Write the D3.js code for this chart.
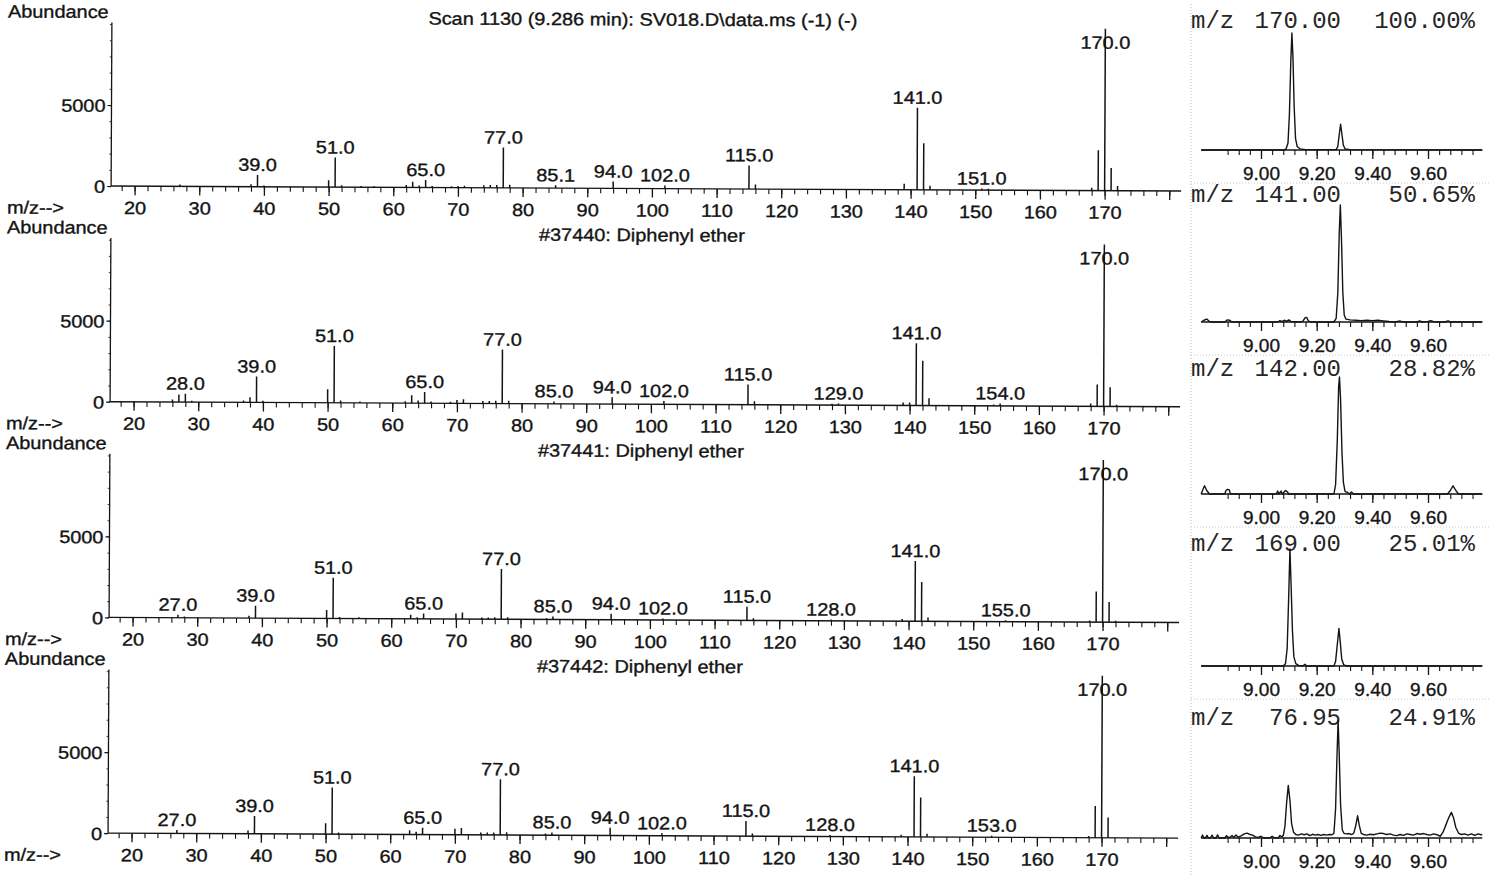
<!DOCTYPE html>
<html><head><meta charset="utf-8">
<script src="https://cdn.jsdelivr.net/npm/d3@7"></script>
<style>body{margin:0;background:#fff}svg{display:block}</style>
</head><body>
<svg id="c" width="1493" height="875"></svg>
<script>
// ---------------- DATA ----------------
const spectrumTitles = [
  "Scan 1130 (9.286 min): SV018.D\\data.ms (-1) (-)",
  "#37440: Diphenyl ether",
  "#37441: Diphenyl ether",
  "#37442: Diphenyl ether"
];
// [m/z, abundance]
const spectrum1 = [[27,120],[38,150],[39,730],[40,80],[50,420],[51,1830],[52,120],[55,80],[57,60],[62,150],[63,350],[64,120],[65,460],[66,100],[69,80],[70,100],[71,120],[74,150],[75,180],[76,180],[77,2491],[78,200],[85.1,170],[94,420],[102,200],[115,1460],[116,280],[139,375],[141,5065],[142,2882],[143,250],[151,100],[152,80],[168,180],[169,2501],[170,10000],[171,1400],[172,300]];
const spectrum2 = [[26,150],[27,460],[28,520],[29,80],[37,120],[38,310],[39,1600],[40,100],[50,830],[51,3500],[52,150],[55,80],[62,120],[63,480],[64,170],[65,690],[66,100],[69,100],[70,210],[71,250],[74,150],[75,150],[76,170],[77,3330],[78,170],[85,150],[94,420],[102,200],[115,1250],[116,210],[128,80],[129,100],[139,180],[140,180],[141,3850],[142,2770],[143,460],[153,80],[154,150],[168,170],[169,1350],[170,9999],[171,1190],[172,100]];
const spectrum3 = [[27,190],[28,80],[38,150],[39,770],[50,520],[51,2510],[52,100],[55,80],[63,250],[64,100],[65,330],[70,350],[71,400],[74,100],[75,100],[76,120],[77,3100],[78,120],[84,80],[85,190],[94,375],[102,100],[115,850],[116,130],[128,80],[139,130],[141,3710],[142,2420],[143,230],[155,80],[168,100],[169,1880],[170,9999],[171,1250],[172,80]];
const spectrum4 = [[27,210],[38,200],[39,1100],[50,670],[51,2880],[52,100],[63,270],[64,170],[65,420],[70,375],[71,420],[74,150],[75,150],[76,150],[77,3440],[78,170],[84,100],[85,170],[94,480],[102,150],[115,940],[116,170],[128,100],[139,130],[141,3750],[142,2440],[143,200],[153,100],[168,110],[169,1960],[170,9999],[171,1250]];
const peakLabels1 = [39,51,65,77,85.1,94,102,115,141,151,170];
const peakLabels2 = [28,39,51,65,77,85,94,102,115,129,141,154,170];
const peakLabels3 = [27,39,51,65,77,85,94,102,115,128,141,155,170];
const peakLabels4 = [27,39,51,65,77,85,94,102,115,128,141,153,170];
const mzMajorTicks = [20,30,40,50,60,70,80,90,100,110,120,130,140,150,160,170,180];
const abundanceTicks = [0,5000];

const chromIons = ["170.00","141.00","142.00","169.00","76.95"];
const chromPercents = ["100.00","50.65","28.82","25.01","24.91"];
const timeTickLabels = [9.00,9.20,9.40,9.60];
// [time (min), % of trace max]
const chrom170 = [[8.785,0],[9.080,0],[9.090,0.8],[9.097,6],[9.102,30],[9.107,75],[9.111,100],[9.115,78],[9.119,38],[9.124,10],[9.130,3],[9.140,1],[9.160,0.3],[9.270,0.3],[9.276,3],[9.281,13],[9.286,22],[9.291,13],[9.296,4],[9.302,1],[9.320,0.3],[9.795,0]];
const chrom141 = [[8.785,0],[8.795,1.5],[8.805,2.5],[8.815,0.5],[8.825,0],[8.870,0],[8.878,1.8],[8.888,1.5],[8.895,0],[9.060,0],[9.068,1.2],[9.075,0.3],[9.085,1.5],[9.092,0.5],[9.100,1.8],[9.108,0.4],[9.140,0],[9.150,0.5],[9.158,3.5],[9.164,4],[9.170,1],[9.178,0],[9.262,0],[9.270,3],[9.276,25],[9.281,75],[9.285,100],[9.289,72],[9.294,25],[9.299,6],[9.305,2.5],[9.320,1.8],[9.340,1.5],[9.360,1.2],[9.380,1.5],[9.400,1.2],[9.420,1.5],[9.440,1.0],[9.460,0.4],[9.480,0],[9.500,0.8],[9.510,0],[9.560,0],[9.570,1],[9.580,0],[9.600,0.5],[9.610,1.2],[9.620,0.3],[9.640,0],[9.660,0],[9.672,1],[9.682,0],[9.795,0]];
const chrom142 = [[8.785,0],[8.790,3],[8.797,7],[8.805,3],[8.815,0],[8.870,0],[8.874,3],[8.880,4],[8.886,3.5],[8.890,0],[9.055,0],[9.060,2.5],[9.064,0],[9.072,2.5],[9.077,0],[9.088,3],[9.094,2],[9.100,0],[9.262,0],[9.268,8],[9.274,45],[9.279,92],[9.282,100],[9.286,80],[9.291,35],[9.296,10],[9.302,2],[9.310,1.5],[9.318,0],[9.325,1.8],[9.332,0],[9.670,0],[9.680,3],[9.690,7],[9.700,3],[9.710,0],[9.795,0]];
const chrom169 = [[8.785,0],[9.080,0],[9.088,2],[9.094,15],[9.099,55],[9.104,100],[9.108,70],[9.113,30],[9.118,8],[9.125,2],[9.135,0.5],[9.150,0],[9.158,1.5],[9.164,0],[9.262,0],[9.268,4],[9.274,18],[9.280,32],[9.285,20],[9.290,6],[9.297,1],[9.310,0],[9.795,0]];
const chrom77 = [[8.785,0],[8.790,2.5],[8.795,0],[8.800,0],[8.806,2.2],[8.811,0],[8.818,0],[8.824,2.4],[8.830,0],[8.838,0],[8.844,2.6],[8.850,0],[8.870,0],[8.876,2],[8.882,0.5],[8.890,0.8],[8.896,2.2],[8.902,0.5],[8.910,2.5],[8.918,0.5],[8.930,2],[8.940,3.5],[8.950,4.2],[8.960,3],[8.970,2.5],[8.980,1],[8.990,0.5],[9.000,1.5],[9.010,0],[9.030,0],[9.040,1.5],[9.050,0],[9.062,0],[9.068,2.2],[9.074,1],[9.080,2],[9.086,10],[9.092,30],[9.098,45],[9.104,32],[9.110,12],[9.117,5],[9.125,3],[9.135,2.5],[9.145,3.5],[9.155,2.8],[9.165,3.5],[9.175,2],[9.185,3.2],[9.195,2.5],[9.205,3],[9.215,2.2],[9.225,3],[9.235,2.5],[9.245,3],[9.255,2.8],[9.262,4],[9.268,25],[9.273,70],[9.277,100],[9.281,72],[9.286,28],[9.292,7],[9.298,4],[9.306,3.5],[9.316,3.8],[9.326,3],[9.333,4],[9.340,10],[9.347,19],[9.353,11],[9.360,4],[9.368,3],[9.380,2.5],[9.392,3.2],[9.404,2.8],[9.416,3.5],[9.428,4.2],[9.440,3.8],[9.452,3],[9.464,3.5],[9.476,2.5],[9.488,2],[9.500,3],[9.512,2.2],[9.524,3.5],[9.536,3],[9.548,2.5],[9.560,3.8],[9.572,3.2],[9.584,3.8],[9.596,3],[9.608,2.5],[9.620,3.5],[9.632,2.8],[9.644,1.5],[9.654,5],[9.664,11],[9.674,17],[9.684,22],[9.692,17],[9.700,9],[9.710,4],[9.720,3],[9.732,3.5],[9.744,2.5],[9.756,3.5],[9.768,2.2],[9.780,3.5],[9.790,2.8],[9.795,3]];

// ---------------- DRAW ----------------
const spectra = [spectrum1, spectrum2, spectrum3, spectrum4];
const peakLabels = [peakLabels1, peakLabels2, peakLabels3, peakLabels4];
const chroms = [chrom170, chrom141, chrom142, chrom169, chrom77];

const INK = "#141414";
const SANS = "'Liberation Sans', Arial, Helvetica, sans-serif";
const MONO = "'Liberation Mono', 'Courier New', monospace";
const FS = 17.8, SX = 1.12, TSW = 0.35;

const svg = d3.select("#c");
svg.append("rect").attr("width",1493).attr("height",875).attr("fill","#fff");

function stext(g, x, y, str, anchor, size){
  return g.append("text")
    .attr("transform", `translate(${x},${y}) scale(${SX},1)`)
    .attr("text-anchor", anchor || "start")
    .attr("font-family", SANS).attr("font-size", size || FS)
    .attr("fill", INK).attr("stroke", INK).attr("stroke-width", TSW).text(str);
}

// Left: mass spectra (scan is slightly rotated)
const left = svg.append("g").attr("transform","rotate(0.27)");
const x = d3.scaleLinear().domain([20,170]).range([135.5,1105.5]);
const AX0 = 112, AX1 = 1182;

spectra.forEach((spec, i) => {
  const base = 185.5 + i*215.7;
  const y = d3.scaleLinear().domain([0,10000]).range([base, base-162]);
  const g = left.append("g");

  // y axis
  g.append("line").attr("x1",AX0).attr("x2",AX0).attr("y1",base).attr("y2",y(10100))
    .attr("stroke",INK).attr("stroke-width",1.3);
  const yAxisMinor = d3.axisLeft(y).tickValues(d3.range(0,10001,1000)).tickSize(2).tickFormat("");
  const ya = g.append("g").attr("transform",`translate(${AX0},0)`).call(yAxisMinor);
  ya.select(".domain").remove();
  ya.selectAll("line").attr("stroke",INK).attr("stroke-width",0.8);
  const yAxisMajor = d3.axisLeft(y).tickValues(abundanceTicks).tickSize(4).tickFormat(d3.format("d"));
  const ym = g.append("g").attr("transform",`translate(${AX0},0)`).call(yAxisMajor);
  ym.select(".domain").remove();
  ym.selectAll("line").attr("stroke",INK).attr("stroke-width",1.2);
  ym.selectAll("text").attr("x", -6/SX).attr("dy","0.36em")
    .attr("transform",`scale(${SX},1)`).attr("font-family",SANS).attr("font-size",FS)
    .attr("fill",INK).attr("stroke",INK).attr("stroke-width",TSW);

  // x axis baseline
  g.append("line").attr("x1",AX0).attr("x2",AX1).attr("y1",base).attr("y2",base)
    .attr("stroke",INK).attr("stroke-width",1.4);
  const xMinor = d3.axisBottom(x).tickValues(d3.range(18,181,2)).tickSize(5).tickFormat("");
  const xm = g.append("g").attr("transform",`translate(0,${base})`).call(xMinor);
  xm.select(".domain").remove();
  xm.selectAll("line").attr("stroke",INK).attr("stroke-width",1.1);
  const xMajor = d3.axisBottom(x).tickValues(mzMajorTicks).tickSize(9)
    .tickFormat(d => d === 180 ? "" : d3.format("d")(d));
  const xM = g.append("g").attr("transform",`translate(0,${base})`).call(xMajor);
  xM.select(".domain").remove();
  xM.selectAll("line").attr("stroke",INK).attr("stroke-width",1.3);
  xM.selectAll("text").attr("y",28).attr("dy",0).attr("transform",`scale(${SX},1)`)
    .attr("font-family",SANS).attr("font-size",FS).attr("fill",INK)
    .attr("stroke",INK).attr("stroke-width",TSW);

  // peaks
  g.selectAll("line.peak").data(spec).join("line").attr("class","peak")
    .attr("x1",d=>x(d[0])).attr("x2",d=>x(d[0]))
    .attr("y1",base).attr("y2",d=>y(d[1]))
    .attr("stroke",INK).attr("stroke-width",1.5);

  // peak labels
  peakLabels[i].forEach(mz => {
    const pk = spec.find(d => d[0] === mz);
    const v = pk ? pk[1] : 0;
    const ly = Math.max(y(v) - 4, base - 142);
    stext(g, x(mz), ly, mz.toFixed(1), "middle");
  });

  // axis captions & title
  stext(g, 8, base-168, "Abundance", "start");
  stext(g, 8, base+28, "m/z-->", "start");
  stext(g, 643, base-163, spectrumTitles[i], "middle");
});

// Right: extracted ion chromatograms
const right = svg.append("g");
const t = d3.scaleLinear().domain([9.0,9.6]).range([1261,1428]);
right.append("line").attr("x1",1191).attr("x2",1191).attr("y1",4).attr("y2",875)
  .attr("stroke","#bdbdbd").attr("stroke-width",1).attr("stroke-dasharray","1,2");

chroms.forEach((data, i) => {
  const cb = 150 + i*172;
  const tb = 28 + i*174.2;
  const yc = d3.scaleLinear().domain([0,100]).range([cb, cb-117]);
  const g = right.append("g");

  g.append("text").attr("x",1191).attr("y",tb).attr("font-family",MONO).attr("font-size",24)
    .attr("fill","#262626").text("m/z");
  g.append("text").attr("x",1341).attr("y",tb).attr("text-anchor","end").attr("font-family",MONO)
    .attr("font-size",24).attr("fill","#262626").text(chromIons[i]);
  g.append("text").attr("x",1475).attr("y",tb).attr("text-anchor","end").attr("font-family",MONO)
    .attr("font-size",24).attr("fill","#262626").text(chromPercents[i] + "%");

  // axis line
  g.append("line").attr("x1",t(8.785)).attr("x2",t(9.795)).attr("y1",cb).attr("y2",cb)
    .attr("stroke",INK).attr("stroke-width",1.3);
  const tMinor = d3.axisBottom(t).tickValues(d3.range(0,23).map(k => 8.88 + k*0.04)).tickSize(5).tickFormat("");
  const tm = g.append("g").attr("transform",`translate(0,${cb})`).call(tMinor);
  tm.select(".domain").remove();
  tm.selectAll("line").attr("stroke",INK).attr("stroke-width",1.1);
  const tMajor = d3.axisBottom(t).tickValues(timeTickLabels).tickSize(9).tickFormat(d3.format(".2f"));
  const tM = g.append("g").attr("transform",`translate(0,${cb})`).call(tMajor);
  tM.select(".domain").remove();
  tM.selectAll("line").attr("stroke",INK).attr("stroke-width",1.3);
  tM.selectAll("text").attr("y",30).attr("dy",0).attr("font-family",SANS).attr("font-size",19)
    .attr("fill",INK).attr("stroke",INK).attr("stroke-width",TSW);

  // trace
  g.append("path").datum(data)
    .attr("d", d3.line().x(d=>t(d[0])).y(d=>yc(d[1])))
    .attr("fill","none").attr("stroke",INK).attr("stroke-width",1.4).attr("stroke-linejoin","round");

  // faint separator
  if (i < chroms.length-1) {
    g.append("line").attr("x1",1191).attr("x2",1490).attr("y1",cb+33).attr("y2",cb+33)
      .attr("stroke","#c8c8c8").attr("stroke-width",1).attr("stroke-dasharray","1,2");
  }
});
</script>
</body></html>
